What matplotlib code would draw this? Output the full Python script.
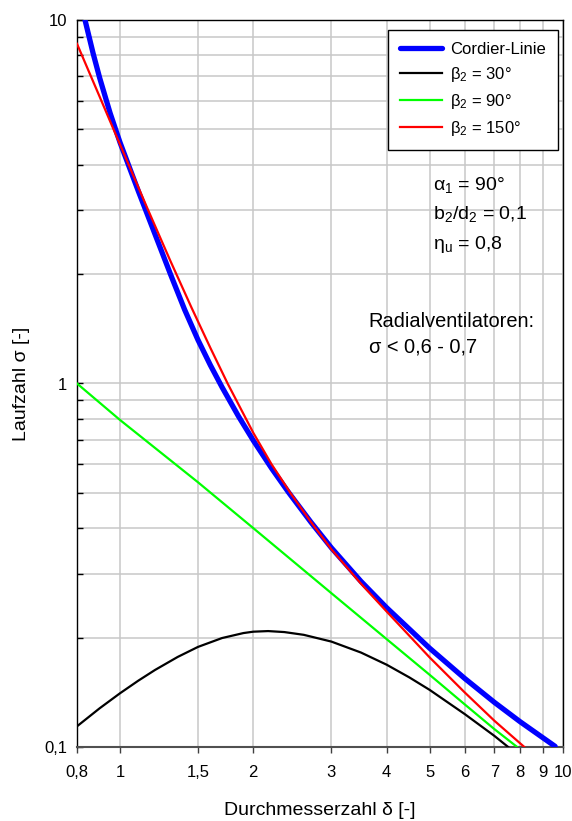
import matplotlib
matplotlib.use("Agg")
import matplotlib.pyplot as plt
from matplotlib.ticker import FixedLocator, FixedFormatter, NullFormatter, NullLocator, LogLocator

# --- data: Laufzahl sigma over Durchmesserzahl delta ---
cordier_delta = [0.834, 0.87, 0.90, 0.95, 1.0, 1.1, 1.2, 1.3, 1.4, 1.5, 1.6, 1.7, 1.85,
                 2.0, 2.2, 2.4, 2.7, 3.0, 3.5, 4.0, 5.0, 6.0, 7.0, 8.0, 9.6]
cordier_sigma = [10.0, 8.09, 6.93, 5.55, 4.61, 3.385, 2.574, 2.0, 1.595, 1.318, 1.123, 0.977, 0.814,
                 0.697, 0.584, 0.5025, 0.415, 0.3533, 0.2855, 0.2416, 0.187, 0.1544, 0.1327, 0.1174, 0.1004]

beta30_delta = [0.8, 0.9, 1.0, 1.1, 1.2, 1.35, 1.5, 1.7, 1.9, 2.0, 2.16, 2.35, 2.6,
                3.0, 3.5, 4.0, 4.5, 5.0, 6.0, 7.0, 7.52]
beta30_sigma = [0.114, 0.1278, 0.1405, 0.1522, 0.1629, 0.1769, 0.1885, 0.1994, 0.2058, 0.2076, 0.2084,
                0.2071, 0.2035, 0.195, 0.1819, 0.1684, 0.1554, 0.1436, 0.1232, 0.1073, 0.100]

beta90_delta = [0.8, 1.0, 1.5, 2.0, 3.0, 4.0, 5.0, 6.0, 7.0, 7.88]
beta90_sigma = [1.0, 0.794, 0.535, 0.40, 0.265, 0.198, 0.158, 0.131, 0.112, 0.10]

beta150_delta = [0.8, 0.9, 1.0, 1.15, 1.3, 1.45, 1.6, 1.75, 2.0, 2.2, 2.44, 2.7, 3.0, 3.5,
                 4.0, 5.0, 6.0, 7.0, 8.18]
beta150_sigma = [8.6, 6.15, 4.55, 3.057, 2.173, 1.619, 1.253, 1.0, 0.7315, 0.599, 0.4944, 0.4155,
                 0.350, 0.2813, 0.2358, 0.1764, 0.1413, 0.1181, 0.10]

x_ticks = [0.8, 1, 1.5, 2, 3, 4, 5, 6, 7, 8, 9, 10]
x_tick_labels = ["0,8", "1", "1,5", "2", "3", "4", "5", "6", "7", "8", "9", "10"]
y_ticks = [0.1, 1, 10]
y_tick_labels = ["0,1", "1", "10"]

plt.rcParams["font.family"] = ["Liberation Sans", "DejaVu Sans"]
plt.rcParams["mathtext.fontset"] = "custom"
plt.rcParams["mathtext.rm"] = "Liberation Sans"
plt.rcParams["mathtext.it"] = "Liberation Sans"
plt.rcParams["mathtext.default"] = "rm"

fig = plt.figure(figsize=(5.72, 8.21), dpi=100)
ax = fig.add_axes([77 / 572, 1 - 747 / 821, 486 / 572, 727 / 821])
ax.set_xscale("log")
ax.set_yscale("log")
ax.set_xlim(0.8, 10)
ax.set_ylim(0.1, 10)

grid_color = "#c8c8c8"
ax.xaxis.set_major_locator(FixedLocator(x_ticks))
ax.xaxis.set_major_formatter(FixedFormatter(x_tick_labels))
ax.xaxis.set_minor_locator(NullLocator())
ax.yaxis.set_major_locator(FixedLocator(y_ticks))
ax.yaxis.set_major_formatter(FixedFormatter(y_tick_labels))
ax.yaxis.set_minor_locator(LogLocator(base=10, subs=range(2, 10)))
ax.yaxis.set_minor_formatter(NullFormatter())

ax.grid(True, which="major", axis="x", color=grid_color, lw=1.1)
ax.grid(True, which="both", axis="y", color=grid_color, lw=1.1)
ax.set_axisbelow(True)

ax.tick_params(axis="x", which="major", direction="out", length=4, width=1,
               labelsize=12, pad=9, color="#404040")
ax.tick_params(axis="y", which="both", direction="in", length=4, width=1,
               labelsize=12, pad=7)

for side in ["left", "top", "right"]:
    ax.spines[side].set_color("black")
    ax.spines[side].set_linewidth(1.0)
ax.spines["bottom"].set_color("#505050")
ax.spines["bottom"].set_linewidth(1.5)

ax.plot(cordier_delta, cordier_sigma, color="#0000ff", lw=3.8,
        solid_capstyle="round", solid_joinstyle="round", label="Cordier-Linie", zorder=3)
ax.plot(beta30_delta, beta30_sigma, color="black", lw=1.6,
        solid_joinstyle="round", label=r"β$_2$ = 30°", zorder=4)
ax.plot(beta90_delta, beta90_sigma, color="#00ff00", lw=1.6,
        label=r"β$_2$ = 90°", zorder=4)
ax.plot(beta150_delta, beta150_sigma, color="#ff0000", lw=1.6,
        solid_joinstyle="round", label=r"β$_2$ = 150°", zorder=5)

leg = ax.legend(loc="upper right", bbox_to_anchor=(0.989, 0.986), borderaxespad=0,
                fontsize=12, frameon=True, fancybox=False, framealpha=1,
                edgecolor="black", handlelength=2.5, handletextpad=0.5,
                labelspacing=0.48, borderpad=0.72)
leg.get_frame().set_linewidth(1.0)

ax.text(0.7325, 0.7662, r"α$_1$ = 90°", transform=ax.transAxes, fontsize=14, va="baseline")
ax.text(0.7325, 0.7256, r"b$_2$/d$_2$ = 0,1", transform=ax.transAxes, fontsize=14, va="baseline")
ax.text(0.7325, 0.6850, r"η$_u$ = 0,8", transform=ax.transAxes, fontsize=14, va="baseline")
ax.text(0.600, 0.578, "Radialventilatoren:", transform=ax.transAxes, fontsize=14.4, va="baseline")
ax.text(0.600, 0.543, "σ < 0,6 - 0,7", transform=ax.transAxes, fontsize=14.4, va="baseline")

ax.set_xlabel("Durchmesserzahl δ [-]", fontsize=14, labelpad=16)
ax.set_ylabel("Laufzahl σ [-]", fontsize=14, labelpad=10)

fig.savefig("out.png", dpi=100)
